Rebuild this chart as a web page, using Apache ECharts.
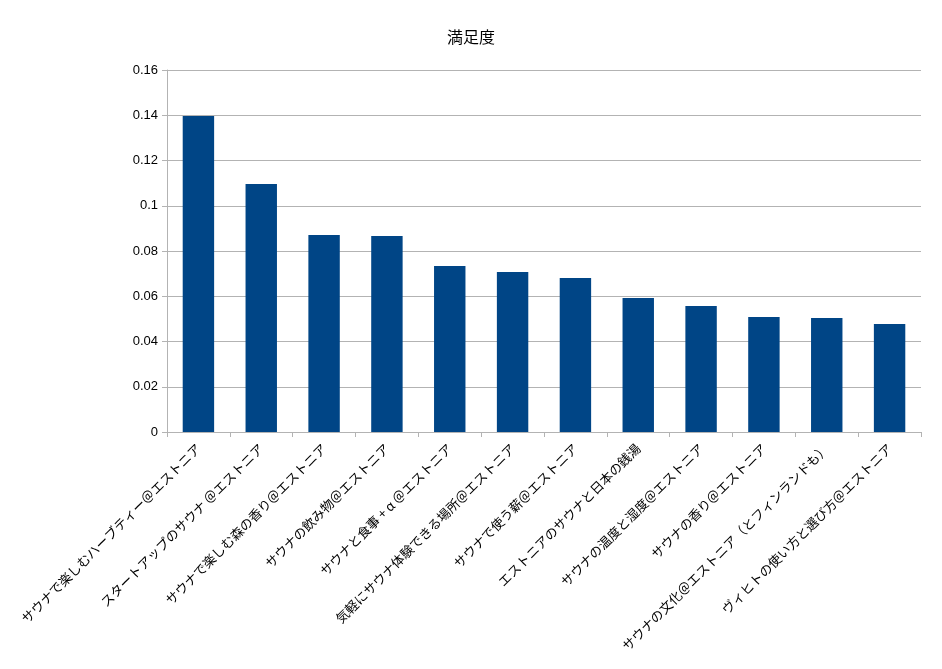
<!DOCTYPE html>
<html><head><meta charset="utf-8">
<script src="https://cdn.jsdelivr.net/npm/echarts@6/dist/echarts.min.js"></script>
<style>html,body{margin:0;padding:0;background:#fff}#c{width:942px;height:669px}</style>
</head><body><div id="c"></div>
<script>
const categories = [
  "サウナで楽しむハーブティー＠エストニア",
  "スタートアップのサウナ ＠エストニア",
  "サウナで楽しむ森の香り＠エストニア",
  "サウナの飲み物＠エストニア",
  "サウナと食事 + α ＠エストニア",
  "気軽にサウナ体験できる場所＠エストニア",
  "サウナで使う薪＠エストニア",
  "エストニアのサウナと日本の銭湯",
  "サウナの温度と湿度＠エストニア",
  "サウナの香り＠エストニア",
  "サウナの文化＠エストニア（とフィンランドも）",
  "ヴィヒトの使い方と選び方＠エストニア"
];
const values = [0.1397, 0.1096, 0.0871, 0.0866, 0.0734, 0.0707, 0.0681, 0.0592, 0.0557, 0.0508, 0.0504, 0.0477];
const yTicks = [0, 0.02, 0.04, 0.06, 0.08, 0.1, 0.12, 0.14, 0.16];
const title = "満足度";

const font = "'Liberation Sans', 'Noto Sans CJK JP', sans-serif";
const chart = echarts.init(document.getElementById('c'));
chart.setOption({
  animation: false,
  title: { text: title, left: 'center', top: 24, textStyle: { fontFamily: "'Noto Sans CJK JP', sans-serif", fontSize: 16, fontWeight: 'normal', color: '#000' } },
  grid: { left: 167, right: 21, top: 70, bottom: 237 },
  xAxis: {
    type: 'category', data: categories,
    axisLine: { show: true, lineStyle: { color: '#b3b3b3' } },
    axisTick: { show: true, alignWithLabel: false, length: 5, lineStyle: { color: '#b3b3b3' } },
    axisLabel: { rotate: 45, interval: 0, margin: 14, fontSize: 13, color: '#000', fontFamily: "'Noto Sans CJK JP', sans-serif" },
    splitLine: { show: false }
  },
  yAxis: {
    type: 'value', min: yTicks[0], max: yTicks[yTicks.length - 1], interval: 0.02,
    axisLine: { show: true, lineStyle: { color: '#b3b3b3' } },
    axisTick: { show: true, length: 5, lineStyle: { color: '#b3b3b3' } },
    axisLabel: { fontSize: 13, color: '#000', fontFamily: font, margin: 9, formatter: v => String(Math.round(v * 100) / 100) },
    splitLine: { show: true, lineStyle: { color: '#b3b3b3' } }
  },
  series: [{ type: 'bar', data: values, barWidth: '50%', itemStyle: { color: '#004586' } }]
});
</script></body></html>
